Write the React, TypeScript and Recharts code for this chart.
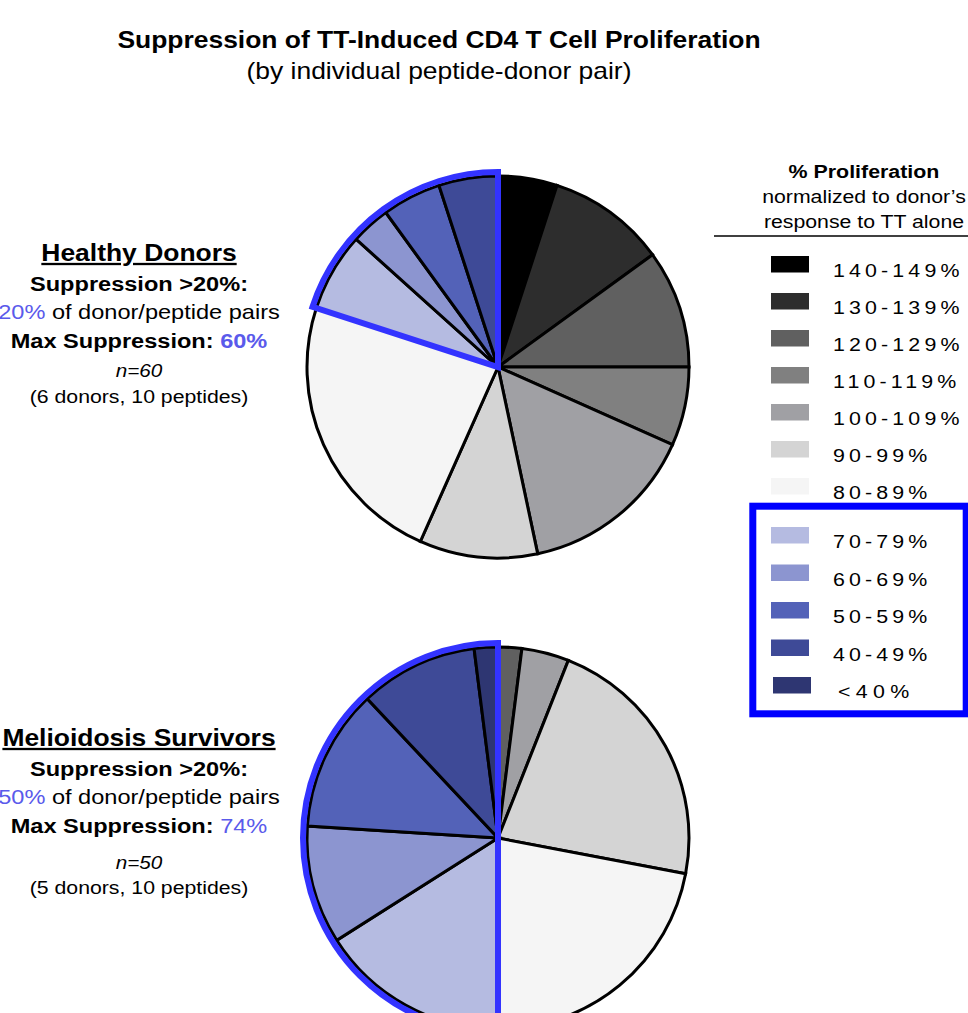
import { PieChart, Pie, Cell } from 'recharts';

const BINS = ['140-149%', '130-139%', '120-129%', '110-119%', '100-109%', '90-99%', '80-89%', '70-79%', '60-69%', '50-59%', '40-49%', '<40%'];
const BIN_COLORS = ['#000000', '#2d2d2d', '#606060', '#808080', '#a0a0a4', '#d4d4d4', '#f5f5f5', '#b5bbe1', '#8c95d0', '#5362b8', '#3e4a97', '#2e3672'];

// number of donor/peptide pairs in each bin
const HEALTHY_COUNTS = [3, 6, 6, 4, 9, 6, 14, 4, 2, 3, 3, 0];
const MELIOIDOSIS_COUNTS = [0, 0, 1, 0, 2, 11, 11, 8, 5, 6, 5, 1];

// bins from here on are < 80% (suppression > 20%)
const SUPPRESSED_FROM = 7;

const FONT = "'Liberation Sans', Arial, Helvetica, sans-serif";
const BLUE_TEXT = '#5a5aeb';
const OUTLINE = '#3333ff';

function sliceData(counts: number[]) {
  return counts
    .map((value, i) => ({ name: BINS[i], value, fill: BIN_COLORS[i] }))
    .filter((d) => d.value > 0);
}

function outlineData(counts: number[]) {
  const rest = counts.slice(0, SUPPRESSED_FROM).reduce((a, b) => a + b, 0);
  const supp = counts.slice(SUPPRESSED_FROM).reduce((a, b) => a + b, 0);
  return [
    { name: 'rest', value: rest },
    { name: 'suppressed', value: supp },
  ];
}

// text in the source is a bit wider than Arial, so stretch it horizontally
function T({ x, y, size, bold, italic, anchor = 'middle', spacing, underline, children }: any) {
  return (
    <text
      transform={`translate(${x},${y}) scale(1.15,1)`}
      fontSize={size}
      fontFamily={FONT}
      fontWeight={bold ? 'bold' : 'normal'}
      fontStyle={italic ? 'italic' : 'normal'}
      textAnchor={anchor}
      letterSpacing={spacing}
      fill="#000"
      style={underline ? { textDecoration: 'underline' } : undefined}
    >
      {children}
    </text>
  );
}

export default function App() {
  const pies = [
    { counts: HEALTHY_COUNTS, cy: 367 },
    { counts: MELIOIDOSIS_COUNTS, cy: 838 },
  ];

  return (
    <div style={{ position: 'absolute', left: 0, top: 0, width: 968, height: 1013, overflow: 'hidden', background: '#fff' }}>
      <PieChart width={968} height={1013} margin={{ top: 0, right: 0, bottom: 0, left: 0 }}>
        {pies.map((p, k) => (
          <Pie
            key={'slices' + k}
            data={sliceData(p.counts)}
            dataKey="value"
            cx={498}
            cy={p.cy}
            outerRadius={191}
            startAngle={90}
            endAngle={-270}
            stroke="#000"
            strokeWidth={3}
            isAnimationActive={false}
          >
            {sliceData(p.counts).map((d) => (
              <Cell key={d.name} fill={d.fill} />
            ))}
          </Pie>
        ))}
        {pies.map((p, k) => (
          <Pie
            key={'outline' + k}
            data={outlineData(p.counts)}
            dataKey="value"
            cx={498}
            cy={p.cy}
            outerRadius={195}
            startAngle={90}
            endAngle={-270}
            isAnimationActive={false}
          >
            <Cell fill="none" stroke="none" />
            <Cell fill="none" stroke={OUTLINE} strokeWidth={6} />
          </Pie>
        ))}
      </PieChart>

      <svg width={968} height={1013} style={{ position: 'absolute', left: 0, top: 0, pointerEvents: 'none' }}>
        <T x={439} y={48} size={23} bold>Suppression of TT-Induced CD4 T Cell Proliferation</T>
        <T x={439} y={79} size={23}>(by individual peptide-donor pair)</T>

        <T x={139} y={261} size={23} bold underline>Healthy Donors</T>
        <T x={139} y={291} size={20.5} bold>Suppression &gt;20%:</T>
        <T x={139} y={319} size={20.5}>
          <tspan fill={BLUE_TEXT}>20%</tspan> of donor/peptide pairs
        </T>
        <T x={139} y={348} size={20.5} bold>
          Max Suppression: <tspan fill={BLUE_TEXT}>60%</tspan>
        </T>
        <T x={139} y={377} size={18} italic>n=60</T>
        <T x={139} y={403} size={18.5}>(6 donors, 10 peptides)</T>

        <T x={139} y={746} size={23} bold underline>Melioidosis Survivors</T>
        <T x={139} y={776} size={20.5} bold>Suppression &gt;20%:</T>
        <T x={139} y={804} size={20.5}>
          <tspan fill={BLUE_TEXT}>50%</tspan> of donor/peptide pairs
        </T>
        <T x={139} y={833} size={20.5} bold>
          Max Suppression: <tspan fill={BLUE_TEXT} fontWeight="normal">74%</tspan>
        </T>
        <T x={139} y={869} size={18} italic>n=50</T>
        <T x={139} y={894} size={18.5}>(5 donors, 10 peptides)</T>

        <T x={864} y={178} size={18.6} bold>% Proliferation</T>
        <T x={864} y={203} size={18.5}>normalized to donor’s</T>
        <T x={864} y={228} size={18.5}>response to TT alone</T>
        <line x1={714} x2={968} y1={236} y2={236} stroke="#000" strokeWidth={1.5} />

        {BINS.map((b, i) => {
          const top = i < SUPPRESSED_FROM ? 256 + 37 * i : 527 + 37.5 * (i - SUPPRESSED_FROM);
          const last = i === BINS.length - 1;
          return (
            <g key={b}>
              <rect x={last ? 773 : 771} y={top} width={38} height={16.5} fill={BIN_COLORS[i]} />
              <T x={last ? 838 : 833} y={top + 21} size={18.6} anchor="start" spacing={last ? 4.6 : 3.6}>
                {b}
              </T>
            </g>
          );
        })}
        <rect x={752.8} y={506.2} width={213.4} height={207.6} fill="none" stroke="#0000ff" strokeWidth={7} />
      </svg>
    </div>
  );
}
